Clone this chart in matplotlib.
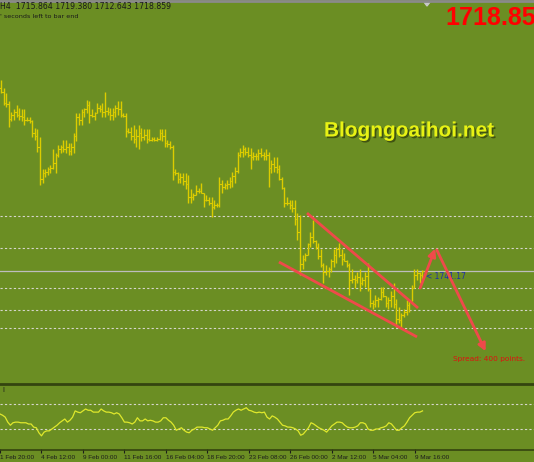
import matplotlib
matplotlib.use("Agg")
import matplotlib.pyplot as plt
import matplotlib.patheffects as pe
from matplotlib.lines import Line2D
from matplotlib.patches import Polygon
import numpy as np

# XAUUSD H4 bars, 1 Feb 20:00 .. 9 Mar 2021
highs = [1864, 1862, 1856, 1852, 1846, 1838, 1840, 1843, 1841, 1840,
         1840, 1834, 1834, 1832, 1826, 1825, 1819, 1795, 1795, 1797,
         1798, 1810, 1807, 1813, 1813, 1817, 1817, 1815, 1815, 1822,
         1837, 1837, 1840, 1841, 1847, 1846, 1840, 1838, 1845, 1843,
         1845, 1853, 1842, 1841, 1841, 1843, 1846, 1846, 1837, 1837,
         1826, 1827, 1828, 1825, 1828, 1826, 1825, 1825, 1825, 1819,
         1819, 1819, 1825, 1825, 1825, 1817, 1816, 1813, 1795, 1793,
         1792, 1792, 1792, 1791, 1780, 1777, 1783, 1781, 1785, 1776,
         1776, 1774, 1774, 1772, 1770, 1789, 1787, 1785, 1787, 1789,
         1793, 1797, 1808, 1811, 1813, 1812, 1812, 1811, 1808, 1807,
         1810, 1811, 1808, 1810, 1808, 1802, 1804, 1804, 1798, 1789,
         1782, 1774, 1772, 1772, 1772, 1762, 1761, 1731, 1732, 1740,
         1748, 1757, 1742, 1740, 1735, 1725, 1723, 1722, 1728, 1735,
         1737, 1740, 1735, 1732, 1727, 1725, 1720, 1716, 1718, 1720,
         1714, 1718, 1725, 1702, 1697, 1701, 1699, 1707, 1707, 1698,
         1699, 1704, 1710, 1698, 1692, 1687, 1690, 1697, 1697, 1708,
         1720, 1720, 1718, 1719.380]
lows = [1853, 1852, 1843, 1842, 1827, 1831, 1832, 1834, 1832, 1831,
        1828, 1831, 1830, 1819, 1817, 1808, 1783, 1785, 1789, 1791,
        1792, 1795, 1792, 1804, 1807, 1808, 1807, 1806, 1806, 1807,
        1816, 1828, 1828, 1834, 1837, 1830, 1834, 1832, 1837, 1838,
        1834, 1834, 1836, 1832, 1832, 1834, 1836, 1834, 1834, 1819,
        1822, 1817, 1815, 1812, 1810, 1816, 1817, 1815, 1816, 1816,
        1816, 1816, 1817, 1816, 1812, 1812, 1810, 1787, 1791, 1785,
        1785, 1783, 1780, 1770, 1770, 1772, 1776, 1777, 1777, 1767,
        1771, 1768, 1759, 1765, 1767, 1767, 1777, 1780, 1780, 1781,
        1782, 1785, 1792, 1804, 1804, 1806, 1804, 1795, 1802, 1802,
        1802, 1804, 1802, 1802, 1782, 1792, 1793, 1792, 1787, 1780,
        1767, 1768, 1765, 1763, 1753, 1742, 1716, 1720, 1726, 1731,
        1737, 1740, 1735, 1728, 1722, 1710, 1716, 1714, 1718, 1722,
        1725, 1729, 1723, 1726, 1722, 1701, 1710, 1706, 1710, 1704,
        1708, 1707, 1704, 1692, 1690, 1692, 1692, 1697, 1699, 1692,
        1690, 1692, 1691, 1677, 1680, 1677, 1684, 1686, 1688, 1696,
        1706, 1712, 1710, 1712.643]
closes = [1856, 1853, 1845, 1844, 1833, 1836, 1838, 1836, 1835, 1834,
          1832, 1832, 1831, 1822, 1820, 1812, 1788, 1792, 1793, 1795,
          1796, 1800, 1806, 1810, 1812, 1810, 1812, 1809, 1812, 1820,
          1834, 1832, 1838, 1840, 1843, 1836, 1835, 1837, 1841, 1840,
          1838, 1839, 1838, 1836, 1838, 1841, 1840, 1836, 1835, 1824,
          1823, 1820, 1818, 1820, 1822, 1819, 1821, 1818, 1817, 1818,
          1817, 1818, 1822, 1820, 1815, 1814, 1812, 1793, 1792, 1788,
          1789, 1786, 1784, 1774, 1774, 1776, 1779, 1779, 1777, 1772,
          1772, 1770, 1767, 1768, 1768, 1784, 1782, 1783, 1784, 1786,
          1790, 1794, 1806, 1808, 1810, 1808, 1806, 1804, 1805, 1805,
          1807, 1806, 1805, 1806, 1796, 1799, 1797, 1795, 1788, 1781,
          1770, 1770, 1768, 1766, 1758, 1748, 1724, 1728, 1731, 1739,
          1744, 1741, 1737, 1730, 1723, 1718, 1719, 1720, 1726, 1731,
          1735, 1731, 1728, 1726, 1723, 1712, 1713, 1712, 1714, 1710,
          1712, 1715, 1705, 1695, 1694, 1697, 1698, 1703, 1700, 1695,
          1697, 1700, 1694, 1683, 1682, 1686, 1688, 1693, 1696, 1706,
          1716, 1717, 1715.864, 1718.859]
first_open = 1858
opens = [first_open] + closes[:-1]

# RSI(14) sub-window values
rsi = [54, 52, 49, 41, 36, 40, 41, 41, 40, 40, 40, 38, 38, 33, 32, 24, 19, 25, 27, 27,
       30, 33, 36, 40, 43, 46, 41, 44, 49, 59, 57, 56, 59, 62, 60, 60, 57, 57, 57, 62,
       59, 57, 57, 56, 54, 56, 54, 48, 41, 41, 40, 38, 41, 48, 43, 43, 46, 43, 44, 43,
       41, 41, 43, 48, 48, 44, 41, 36, 28, 30, 32, 28, 25, 24, 28, 30, 33, 33, 33, 32,
       32, 30, 28, 32, 36, 43, 44, 46, 46, 51, 57, 60, 62, 60, 62, 64, 60, 59, 57, 56,
       57, 56, 57, 49, 46, 51, 49, 46, 41, 36, 35, 33, 33, 32, 30, 27, 20, 22, 27, 32,
       40, 38, 35, 32, 30, 28, 25, 30, 35, 38, 41, 41, 40, 36, 33, 32, 32, 33, 35, 40,
       40, 38, 30, 28, 28, 30, 30, 32, 33, 35, 40, 38, 33, 28, 28, 32, 35, 41, 48, 52,
       56, 57, 57, 59]

date_ticks = [0, 16, 32, 48, 64, 80, 96, 112, 128, 144, 160]
date_labels = ["1 Feb 20:00", "4 Feb 12:00", "9 Feb 00:00", "11 Feb 16:00",
               "16 Feb 04:00", "18 Feb 20:00", "23 Feb 08:00", "26 Feb 00:00",
               "2 Mar 12:00", "5 Mar 04:00", "9 Mar 16:00"]
grid_levels = [1760, 1736, 1706, 1689.5, 1676]
bid = 1718.859

# drawn objects on the chart
upper_line = [(118.7, 1762.2), (161.4, 1691.0)]
lower_line = [(107.9, 1725.5), (161.0, 1669.3)]
arrow_up = [(162.2, 1706.0), (168.0, 1735.5)]
arrow_down = [(168.6, 1734.6), (187.4, 1658.5)]

BG = "#6b8e23"
BAR = "#dccc00"
W, H = 534, 462

fig = plt.figure(figsize=(W / 100, H / 100), dpi=100, facecolor=BG)

def frac_rect(top, bottom):
    return [0, 1 - bottom / H, 1, (bottom - top) / H]

xlim = (0.615, 206.0)
ax = fig.add_axes(frac_rect(2, 383), facecolor=BG)
ax.set_xlim(*xlim)
ax.set_ylim(1922 - 0.75 * 383, 1922 - 0.75 * 2)
ax.axis("off")

x = np.arange(len(closes))
lo = np.minimum(np.minimum(lows, opens), closes)
hi = np.maximum(np.maximum(highs, opens), closes)
ax.vlines(x, lo, hi, color=BAR, lw=1.0, zorder=3)
ax.hlines(opens, x - 0.6, x, color=BAR, lw=0.8, zorder=3)
ax.hlines(closes, x, x + 0.6, color=BAR, lw=0.8, zorder=3)

for lev in grid_levels:
    ax.axhline(lev, color="#d6d6cc", lw=0.8, ls=(0, (2, 2)), zorder=1)
ax.axhline(bid, color="#bdbdbd", lw=0.9, zorder=1)

for (x0, y0), (x1, y1) in [upper_line, lower_line]:
    ax.plot([x0, x1], [y0, y1], color="#ef4a4a", lw=2.0, solid_capstyle="butt", zorder=5)
for start, end in [arrow_up, arrow_down]:
    ax.annotate("", xy=end, xytext=start,
                arrowprops=dict(arrowstyle="-|>", color="#ef4a4a", lw=2.0,
                                mutation_scale=11, shrinkA=0, shrinkB=0), zorder=6)

ax.text(164.3, 1714.3, "< 1741.17", color="#1e2fa8", fontsize=5.5,
        family="DejaVu Sans", va="center", ha="left", zorder=4)
ax.text(175.0, 1653.0, "Spread: 400 points.", color="#e01010", fontsize=5.3,
        family="DejaVu Sans", va="center", ha="left", zorder=4)

# RSI sub-window
ax2 = fig.add_axes(frac_rect(385, 449), facecolor=BG)
ax2.set_xlim(*xlim)
ax2.set_ylim(-2, 100.4)
ax2.plot(x, rsi, color="#dfe82c", lw=0.9, zorder=3)
for lev in [70, 30]:
    ax2.axhline(lev, color="#d6d6cc", lw=0.8, ls=(0, (2, 2)), zorder=1)
for s in ax2.spines.values():
    s.set_visible(False)
ax2.set_yticks([])
ax2.set_xticks(date_ticks)
ax2.set_xticklabels(date_labels, ha="left", fontsize=4.6, family="Liberation Sans",
                    color="#1c1c1c")
ax2.tick_params(axis="x", length=3, width=0.8, color="#1c1c1c", pad=1.2)
ax2.text(1.0, 93, "l", fontsize=5, color="#1c1c1c", va="center")

# window frame lines
for ypx, lw in [(384, 2.0), (449.5, 1.2)]:
    fig.add_artist(Line2D([0, 1], [1 - ypx / H] * 2, color="#34440f", lw=lw))
fig.add_artist(Line2D([0, 1], [1 - 1 / H] * 2, color="#8a8a8a", lw=2.0))
fig.add_artist(Polygon([[424 / W, 1 - 2 / H], [430 / W, 1 - 2 / H], [427 / W, 1 - 6 / H]],
                       closed=True, color="#c8c8c8"))

fig.text(0.5 / W, 1 - 6.5 / H, "H4  1715.864 1719.380 1712.643 1718.859",
         fontsize=5.6, color="#1a1a1a", va="center", ha="left", family="DejaVu Sans")
fig.text(0.5 / W, 1 - 16 / H, "' seconds left to bar end",
         fontsize=4.6, color="#1a1a1a", va="center", ha="left", family="DejaVu Sans")
fig.text(445 / W, 1 - 18 / H, "1718.859", fontsize=18, fontweight="bold",
         color="#ff0000", va="center", ha="left", family="Liberation Sans")

fig.text(409.5 / W, 1 - 131 / H, "Blogngoaihoi.net", fontsize=15, fontweight="bold",
         color="#e8f214", va="center", ha="center", family="Liberation Sans",
         path_effects=[pe.withSimplePatchShadow(offset=(1.2, -1.2),
                                                shadow_rgbFace="#2e3a0a", alpha=0.7)])

fig.savefig("out.png", dpi=100, facecolor=BG)
